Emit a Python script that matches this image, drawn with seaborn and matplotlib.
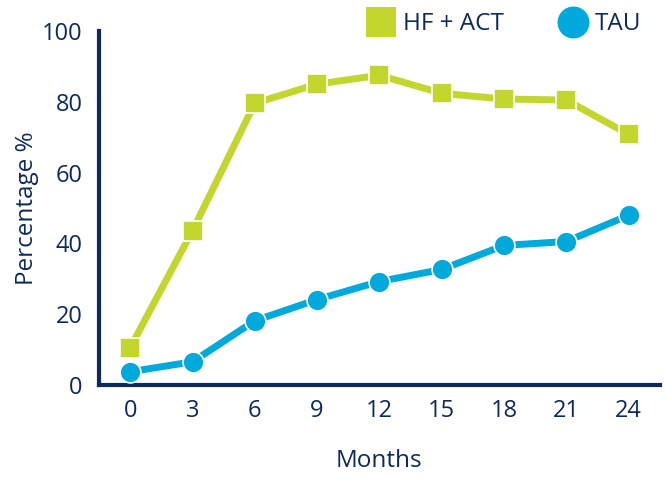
import pandas as pd
import matplotlib
matplotlib.use('Agg')
import matplotlib.pyplot as plt
import seaborn as sns
from matplotlib.lines import Line2D

months = [0, 3, 6, 9, 12, 15, 18, 21, 24]
hf_act = [10.5, 43.6, 79.6, 85.0, 87.5, 82.4, 80.8, 80.5, 70.8]
tau = [3.7, 6.5, 18.1, 24.1, 29.2, 32.6, 39.4, 40.5, 47.9]
groups = ['HF + ACT', 'TAU']

navy = '#0d2a5c'
green = '#c3d62e'
blue = '#00a9dc'

df = pd.concat([
    pd.DataFrame({'Months': months, 'Percentage': hf_act, 'Group': groups[0]}),
    pd.DataFrame({'Months': months, 'Percentage': tau, 'Group': groups[1]}),
])

sns.set_style('white')
plt.rcParams['font.family'] = ['Open Sans', 'DejaVu Sans']

fig = plt.figure(figsize=(6.65, 4.78), dpi=100)
ax = fig.add_axes([0.149, 0.195, 0.843, 0.74])

sns.lineplot(data=df, x='Months', y='Percentage', hue='Group', style='Group',
             markers={'HF + ACT': 's', 'TAU': 'o'}, dashes=False,
             palette={'HF + ACT': green, 'TAU': blue},
             linewidth=5, markersize=15, markeredgecolor='white', markeredgewidth=1.2,
             legend=False, ax=ax, clip_on=False, zorder=3)

ax.set_xlim(-1.5, 25.5)
ax.set_ylim(0, 100)
ax.set_xticks(months)
ax.set_yticks([0, 20, 40, 60, 80, 100])
for s in ['top', 'right']:
    ax.spines[s].set_visible(False)
for s in ['left', 'bottom']:
    ax.spines[s].set_color(navy)
    ax.spines[s].set_linewidth(3)
ax.tick_params(direction='in', length=9, width=2, color=navy, labelcolor=navy,
               labelsize=17, pad=10)
ax.tick_params(axis='y', pad=12)
ax.set_xlabel('Months', color=navy, fontsize=17.5, labelpad=19)
ax.set_ylabel('Percentage %', color=navy, fontsize=17.5, labelpad=2)

handles = [
    Line2D([], [], linestyle='none', marker='s', markersize=21, color=green, markeredgewidth=0),
    Line2D([], [], linestyle='none', marker='o', markersize=23, color=blue, markeredgewidth=0),
]
leg = fig.legend(handles, groups, loc='upper right', bbox_to_anchor=(0.997, 1.02), ncol=2,
                 frameon=False, fontsize=17.5, columnspacing=2.3, handletextpad=0.35,
                 handlelength=1.1)
for t in leg.get_texts():
    t.set_color(navy)

fig.savefig('out.png', dpi=100)
